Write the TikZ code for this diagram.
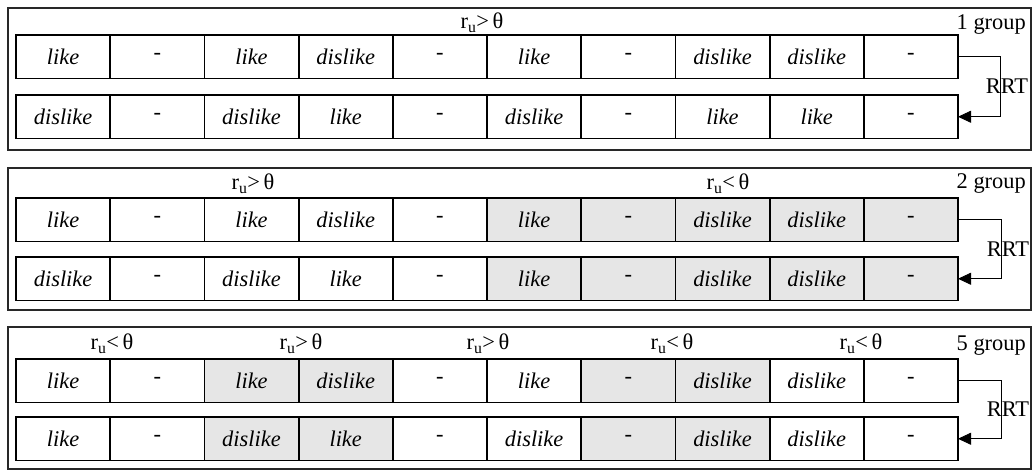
\documentclass[tikz,border=0pt]{standalone}
\usepackage{fontspec}
\setmainfont{Liberation Serif}
\usetikzlibrary{arrows.meta}

\definecolor{cellgrey}{RGB}{230,230,230}
\definecolor{framegrey}{RGB}{40,40,40}

% upright dash, italic words
\def\cwdash{-}
\newcommand\cellword[1]{\edef\cwtmp{#1}\ifx\cwtmp\cwdash -\else\textit{#1}\fi}

\tikzset{
  txt/.style={font=\fontsize{22.5}{26}\selectfont},
  cellbox/.style={txt, draw=black, line width=1.8bp, minimum width=94.2bp,
    minimum height=43.5bp, inner sep=0pt, outer sep=0pt, anchor=north west},
  tone0/.style={fill=white},
  tone1/.style={fill=cellgrey},
  panelbox/.style={draw=framegrey, line width=1.7bp, anchor=north west,
    inner sep=0pt, outer sep=0pt, minimum width=1023bp, minimum height=142bp},
  condlabel/.style={txt, anchor=base, inner sep=0pt},
  grouplabel/.style={txt, anchor=base east, inner sep=0pt},
  rrtlabel/.style={txt, inner sep=0pt},
  rrtlink/.style={draw=black, line width=0.8bp,
    -{Triangle[length=13bp,width=12bp]}},
}

% one row of ten cells: name prefix, top edge, word/tone pairs
\newcommand\cellrow[3]{%
  \foreach \w/\g [count=\i] in {#3} {
    \node[cellbox, tone\g] (#1c\i) at ({16+94.2*(\i-1)}, #2) {\cellword{\w}};
  }}

\newcommand\rtheta[1]{r\textsubscript{u}#1\,θ}

\begin{document}
\begin{tikzpicture}[x=1bp, y=-1bp]
\useasboundingbox (0,0) rectangle (1033,471);

% ---------- 1 group ----------
\node[panelbox] (panelA) at (8,8) {};
\cellrow{pAa}{35}{like/0,-/0,like/0,dislike/0,-/0,like/0,-/0,dislike/0,dislike/0,-/0}
\cellrow{pAb}{95}{dislike/0,-/0,dislike/0,like/0,-/0,dislike/0,-/0,like/0,like/0,-/0}
\node[condlabel] (condA) at (482,29) {\rtheta{>}};
\node[grouplabel] (groupA) at (1026,30) {1 group};
\draw[rrtlink] (pAac10.east) -- ++(42,0) |- (pAbc10.east);
\node[rrtlabel] (rrtA) at (1007,86) {RRT};

% ---------- 2 group ----------
\node[panelbox] (panelB) at (8,168) {};
\cellrow{pBa}{198}{like/0,-/0,like/0,dislike/0,-/0,like/1,-/1,dislike/1,dislike/1,-/1}
\cellrow{pBb}{257}{dislike/0,-/0,dislike/0,like/0,-/0,like/1,-/1,dislike/1,dislike/1,-/1}
\node[condlabel] (condBa) at (253,190) {\rtheta{>}};
\node[condlabel] (condBb) at (728,190) {\rtheta{<}};
\node[grouplabel] (groupB) at (1026,189) {2 group};
\draw[rrtlink] (pBac10.east) -- ++(43,0) |- (pBbc10.east);
\node[rrtlabel] (rrtB) at (1008,249) {RRT};

% ---------- 5 group ----------
\node[panelbox] (panelC) at (8,327) {};
\cellrow{pCa}{359}{like/0,-/0,like/1,dislike/1,-/0,like/0,-/1,dislike/1,dislike/0,-/0}
\cellrow{pCb}{417}{like/0,-/0,dislike/1,like/1,-/0,dislike/0,-/1,dislike/1,dislike/0,-/0}
\node[condlabel] (condCa) at (112,350) {\rtheta{<}};
\node[condlabel] (condCb) at (301,350) {\rtheta{>}};
\node[condlabel] (condCc) at (488,350) {\rtheta{>}};
\node[condlabel] (condCd) at (672,350) {\rtheta{<}};
\node[condlabel] (condCe) at (861,350) {\rtheta{<}};
\node[grouplabel] (groupC) at (1026,351) {5 group};
\draw[rrtlink] (pCac10.east) -- ++(43,0) |- (pCbc10.east);
\node[rrtlabel] (rrtC) at (1008,409) {RRT};
\end{tikzpicture}
\end{document}
